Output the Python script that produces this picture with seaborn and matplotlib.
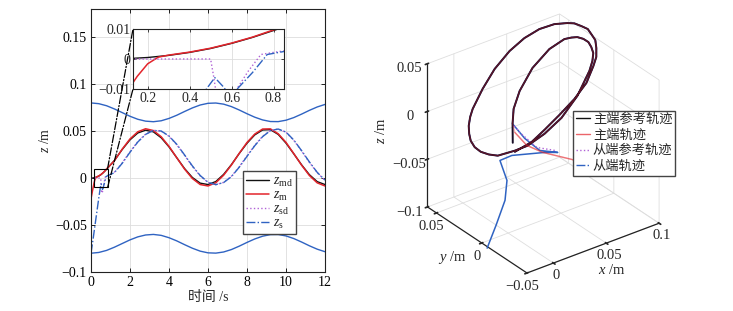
import numpy as np
import matplotlib
matplotlib.use("Agg")
import matplotlib.pyplot as plt
import seaborn as sns
from matplotlib.lines import Line2D
from matplotlib.patches import Rectangle, ConnectionPatch
from mpl_toolkits.mplot3d import proj3d

# ---------------- left panel: z over time ----------------
t_main = [1.2, 1.6, 2.0, 2.4, 2.8, 3.2, 3.6, 4.0, 4.4, 4.8, 5.2, 5.6, 6.0, 6.4,
          6.8, 7.2, 7.6, 8.0, 8.4, 8.8, 9.2, 9.6, 10.0, 10.4, 10.8, 11.2, 11.6, 12.0]

t_md_early = [0.0, 0.1, 0.2, 0.3, 0.4, 0.5, 0.6, 0.7, 0.8]
z_md_early = [0.0, 0.0001, 0.0005, 0.0012, 0.0022, 0.0035, 0.0052, 0.0072, 0.0095]
z_md_main = [0.0187, 0.0304, 0.0407, 0.0480, 0.0510, 0.0492, 0.0429, 0.0332, 0.0216, 0.0101,
             0.0006, -0.0054, -0.0069, -0.0037, 0.0039, 0.0143, 0.0261, 0.0371, 0.0460, 0.0512,
             0.0515, 0.0465, 0.0372, 0.0258, 0.0141, 0.0036, -0.0038, -0.0069]

t_m_early = [0.0, 0.05, 0.1, 0.15, 0.2, 0.25, 0.3, 0.4, 0.5, 0.6, 0.7, 0.8]
z_m_early = [-0.022, -0.0165, -0.011, -0.0058, -0.0016, 0.0006, 0.0013, 0.0023, 0.0036, 0.0053,
             0.0073, 0.0097]
z_m_main = [0.0185, 0.0308, 0.0417, 0.0493, 0.0525, 0.0506, 0.0440, 0.0338, 0.0216, 0.0095,
            -0.0005, -0.0069, -0.0084, -0.0050, 0.0030, 0.0139, 0.0263, 0.0379, 0.0469, 0.0522,
            0.0524, 0.0472, 0.0380, 0.0260, 0.0137, 0.0027, -0.0051, -0.0084]

t_sd_early = [0.0, 0.5, 0.515, 0.53, 0.57, 0.6, 0.625, 0.68, 0.74, 0.8]
z_sd_early = [0.0, 0.0, -0.006, -0.013, -0.016, -0.0135, -0.010, -0.004, 0.0015, 0.0022]
z_sd_main = [0.0062, 0.0162, 0.0280, 0.0388, 0.0468, 0.0508, 0.0500, 0.0445, 0.0355, 0.0241,
             0.0124, 0.0023, -0.0046, -0.0070, -0.0046, 0.0019, 0.0120, 0.0236, 0.0350, 0.0445,
             0.0507, 0.0522, 0.0487, 0.0401, 0.0287, 0.0167, 0.0057, -0.0024]

t_s_early = [0.0, 0.1, 0.2, 0.3, 0.4, 0.48, 0.52, 0.56, 0.59, 0.62, 0.7, 0.77, 0.85]
z_s_early = [-0.080, -0.066, -0.051, -0.036, -0.021, -0.010, -0.0062, -0.0092, -0.012, -0.0105,
             -0.0045, 0.0015, 0.0025]
z_s_main = [0.0058, 0.0157, 0.0275, 0.0384, 0.0465, 0.0507, 0.0501, 0.0448, 0.0359, 0.0246,
            0.0129, 0.0027, -0.0044, -0.0070, -0.0048, 0.0015, 0.0115, 0.0231, 0.0345, 0.0441,
            0.0505, 0.0522, 0.0490, 0.0405, 0.0292, 0.0172, 0.0061, -0.0022]

t_bound = [0.0, 0.4, 0.8, 1.2, 1.6, 2.0, 2.4, 2.8, 3.2, 3.6, 4.0, 4.4, 4.8, 5.2, 5.6, 6.0,
           6.4, 6.8, 7.2, 7.6, 8.0, 8.4, 8.8, 9.2, 9.6, 10.0, 10.4, 10.8, 11.2, 11.6, 12.0]
z_upper = [0.0800, 0.0792, 0.0770, 0.0736, 0.0697, 0.0658, 0.0626, 0.0606, 0.0600, 0.0610,
           0.0635, 0.0669, 0.0709, 0.0747, 0.0778, 0.0796, 0.0799, 0.0787, 0.0761, 0.0725,
           0.0685, 0.0648, 0.0619, 0.0602, 0.0601, 0.0616, 0.0644, 0.0681, 0.0721, 0.0757, 0.0784]
z_lower = [-0.0800, -0.0792, -0.0770, -0.0736, -0.0697, -0.0658, -0.0626, -0.0606, -0.0600,
           -0.0610, -0.0635, -0.0669, -0.0709, -0.0747, -0.0778, -0.0796, -0.0799, -0.0787,
           -0.0761, -0.0725, -0.0685, -0.0648, -0.0619, -0.0602, -0.0601, -0.0616, -0.0644,
           -0.0681, -0.0721, -0.0757, -0.0784]

x_ticks = [0, 2, 4, 6, 8, 10, 12]
y_ticks = [-0.1, -0.05, 0, 0.05, 0.1, 0.15]
inset_x_ticks = [0.2, 0.4, 0.6, 0.8]
inset_y_ticks = [-0.01, 0, 0.01]
zoom_box = (0.13, 0.85, -0.01, 0.01)

labels_2d = [r"$z_{\mathrm{md}}$", r"$z_{\mathrm{m}}$", r"$z_{\mathrm{sd}}$", r"$z_{\mathrm{s}}$"]

# ---------------- right panel: 3D trajectories ----------------
# shared path of the two loops (after the start-up transients)
ring_x = [0.0050, 0.0157, 0.0303, 0.0509, 0.0703, 0.0829, 0.0866, 0.0892, 0.0903, 0.0900,
          0.0877, 0.0844, 0.0786, 0.0706, 0.0489, 0.0278, 0.0104, -0.0043, -0.0126, -0.0225,
          -0.0251, -0.0263, -0.0255, -0.0226, -0.0184, -0.0131, -0.0064, 0.0001, 0.0175, 0.0358,
          0.0538, 0.0683, 0.0802, 0.0893, 0.0950, 0.0975, 0.0983, 0.0987, 0.0966, 0.0940,
          0.0890, 0.0828, 0.0755, 0.0612, 0.0457, 0.0291, 0.0131, 0.0006, -0.0133]
ring_y = [0.0010, 0.0123, 0.0227, 0.0326, 0.0366, 0.0347, 0.0313, 0.0278, 0.0224, 0.0165,
          0.0106, 0.0045, -0.0013, -0.0073, -0.0194, -0.0265, -0.0281, -0.0265, -0.0220, -0.0148,
          -0.0079, -0.0004, 0.0072, 0.0150, 0.0216, 0.0283, 0.0345, 0.0393, 0.0487, 0.0568,
          0.0613, 0.0619, 0.0592, 0.0533, 0.0456, 0.0407, 0.0339, 0.0273, 0.0210, 0.0135,
          0.0065, -0.0007, -0.0060, -0.0150, -0.0199, -0.0228, -0.0249, -0.0254, -0.0229]
ring_z = [0.0117, 0.0158, 0.0219, 0.0311, 0.0403, 0.0467, 0.0489, 0.0505, 0.0516, 0.0521,
          0.0516, 0.0505, 0.0482, 0.0449, 0.0355, 0.0257, 0.0173, 0.0099, 0.0053, -0.0003,
          -0.0023, -0.0037, -0.0040, -0.0034, -0.0020, -0.0001, 0.0026, 0.0053, 0.0130, 0.0211,
          0.0296, 0.0367, 0.0429, 0.0480, 0.0516, 0.0533, 0.0544, 0.0553, 0.0549, 0.0544,
          0.0526, 0.0503, 0.0472, 0.0411, 0.0339, 0.0260, 0.0183, 0.0112, 0.0050]

md_start_x, md_start_y, md_start_z = [-0.0079], [-0.0143], [0.0068]
m_start_x = [0.0413, 0.0315, 0.0143, 0.0067, 0.0052]
m_start_y = [-0.0418, -0.0335, -0.0215, -0.0128, -0.0013]
m_start_z = [-0.020, -0.015, -0.008, -0.003, 0.004]
sd_start_x = [0.0164, 0.0065, 0.0064]
sd_start_y = [-0.0323, -0.0240, -0.0054]
sd_start_z = [0.000, 0.002, 0.006]
s_start_x = [-0.0438, -0.0349, -0.0242, -0.0180, -0.0154, -0.0071, 0.0138, 0.0207, 0.0082, 0.0057]
s_start_y = [-0.0279, -0.0274, -0.0248, -0.0197, -0.0089, -0.0124, -0.0244, -0.0306, -0.0254, -0.0117]
s_start_z = [-0.080, -0.060, -0.040, -0.025, -0.012, -0.008, -0.006, -0.005, -0.001, 0.004]

lim3_x, lim3_y, lim3_z = (-0.025, 0.1), (-0.05, 0.06), (-0.1, 0.05)
ticks3_x = [0, 0.05, 0.1]
ticks3_y = [-0.05, 0, 0.05]
ticks3_z = [-0.1, -0.05, 0, 0.05]
labels_3d = ["主端参考轨迹", "主端轨迹", "从端参考轨迹", "从端轨迹"]

BLACK, RED, PURPLE, BLUE = "#111111", "#e3242b", "#b062d6", "#2f63c2"
RING_DARK = "#180d26"   # black trace as it shows under the other three
W, H = 733, 311


def fmt(v, _=None):
    return f"{v:g}".replace("-", "\u2212")


sns.set_theme(style="ticks")
plt.rcParams["font.family"] = ["Liberation Serif", "Noto Sans CJK SC", "DejaVu Sans"]
plt.rcParams["mathtext.fontset"] = "custom"
plt.rcParams["mathtext.rm"] = "Liberation Serif"
plt.rcParams["mathtext.it"] = "Liberation Serif:italic"
plt.rcParams["font.size"] = 10

fig = plt.figure(figsize=(W / 100, H / 100), dpi=100)

# ---------- left axes ----------
ax = fig.add_axes([91 / W, 1 - 272 / H, 234 / W, 263 / H])


def draw_series(a):
    sns.lineplot(x=t_bound, y=z_upper, ax=a, color=BLUE, linewidth=1.0, sort=False, estimator=None)
    sns.lineplot(x=t_bound, y=z_lower, ax=a, color=BLUE, linewidth=1.0, sort=False, estimator=None)
    sns.lineplot(x=t_md_early + t_main, y=z_md_early + z_md_main, ax=a, color=BLACK,
                 linewidth=1.0, sort=False, estimator=None)
    sns.lineplot(x=t_m_early + t_main, y=z_m_early + z_m_main, ax=a, color=RED,
                 linewidth=1.1, sort=False, estimator=None)
    sns.lineplot(x=t_sd_early + t_main, y=z_sd_early + z_sd_main, ax=a, color=PURPLE,
                 linewidth=1.0, linestyle=":", sort=False, estimator=None)
    sns.lineplot(x=t_s_early + t_main, y=z_s_early + z_s_main, ax=a, color=BLUE,
                 linewidth=1.0, linestyle="-.", sort=False, estimator=None)


draw_series(ax)
ax.set_xlim(0, 12)
ax.set_ylim(-0.1, 0.18)
ax.set_xticks(x_ticks)
ax.set_yticks(y_ticks)
ax.xaxis.set_major_formatter(fmt)
ax.yaxis.set_major_formatter(fmt)
ax.grid(True, color="#dddddd", linewidth=0.6)
ax.tick_params(direction="in", top=True, right=True, length=3, width=0.6,
               labelsize=10, pad=3, colors="black")
for s in ax.spines.values():
    s.set_color("#222222")
    s.set_linewidth(0.8)
ax.set_xlabel("时间 /s", fontsize=10, labelpad=1)
ax.set_ylabel(r"$z$ /m", fontsize=10, labelpad=2)

ax.add_patch(Rectangle((zoom_box[0], zoom_box[2]), zoom_box[1] - zoom_box[0],
                       zoom_box[3] - zoom_box[2], fill=False, ec="black", lw=0.8, zorder=5))

handles_2d = [Line2D([], [], color=BLACK, lw=1.0),
              Line2D([], [], color=RED, lw=1.1),
              Line2D([], [], color=PURPLE, lw=1.0, ls=":"),
              Line2D([], [], color=BLUE, lw=1.0, ls="-.")]
ax.legend(handles_2d, labels_2d, loc="upper left", bbox_to_anchor=(243 / W, 1 - 171 / H),
          bbox_transform=fig.transFigure, fontsize=10, frameon=True, fancybox=False,
          edgecolor="#444444", framealpha=1, handlelength=1.6, handletextpad=0.3,
          labelspacing=0.0, borderpad=0.25, borderaxespad=0)

# ---------- inset ----------
axin = fig.add_axes([133 / W, 1 - 89 / H, 151 / W, 60 / H])
draw_series(axin)
axin.set_xlim(zoom_box[0], zoom_box[1])
axin.set_ylim(zoom_box[2], zoom_box[3])
axin.set_xticks(inset_x_ticks)
axin.set_yticks(inset_y_ticks)
axin.xaxis.set_major_formatter(fmt)
axin.yaxis.set_major_formatter(fmt)
axin.grid(True, color="#dddddd", linewidth=0.6)
axin.tick_params(direction="in", top=True, right=True, length=2.5, width=0.6,
                 labelsize=10, pad=2)
axin.set_xlabel("")
axin.set_ylabel("")
for s in axin.spines.values():
    s.set_color("#222222")
    s.set_linewidth(0.8)

for ya, yb in ((zoom_box[3], 1), (zoom_box[2], 0)):
    con = ConnectionPatch(xyA=(zoom_box[1], ya), coordsA=ax.transData,
                          xyB=(0, yb), coordsB=axin.transAxes,
                          color="black", lw=0.9, ls="-.")
    fig.add_artist(con)

# ---------- 3D axes ----------
ax3 = fig.add_axes([(543 - 150) / W, (H - 143 - 150) / H, 300 / W, 300 / H], projection="3d")
ax3.set_proj_type("ortho")
ax3.view_init(elev=30, azim=-127)
ax3.set_box_aspect((1, 1, 1))
try:
    ax3.set_xlim(*lim3_x, view_margin=0)
    ax3.set_ylim(*lim3_y, view_margin=0)
    ax3.set_zlim(*lim3_z, view_margin=0)
except TypeError:
    ax3.set_xlim(*lim3_x)
    ax3.set_ylim(*lim3_y)
    ax3.set_zlim(*lim3_z)
ax3.computed_zorder = False

ax3.plot(s_start_x + ring_x, s_start_y + ring_y, s_start_z + ring_z, color=BLUE, lw=1.1, zorder=1)
ax3.plot(sd_start_x + ring_x, sd_start_y + ring_y, sd_start_z + ring_z, color=PURPLE, lw=1.0,
         ls=":", zorder=2)
ax3.plot(md_start_x + ring_x, md_start_y + ring_y, md_start_z + ring_z, color=RING_DARK, lw=1.4,
         zorder=3)
ax3.plot(m_start_x + ring_x, m_start_y + ring_y, m_start_z + ring_z, color=RED, lw=1.0,
         alpha=0.32, zorder=4)
# the start-up part of the master trace is drawn a bit stronger, as in the reference
ax3.plot(m_start_x, m_start_y, m_start_z, color=RED, lw=1.0, alpha=0.45, zorder=4)

ax3.set_xticks(ticks3_x)
ax3.set_yticks(ticks3_y)
ax3.set_zticks(ticks3_z)
ax3.xaxis.set_major_formatter(fmt)
ax3.yaxis.set_major_formatter(fmt)
ax3.zaxis.set_major_formatter(fmt)
ax3.tick_params(labelsize=10.5, pad=0)
ax3.xaxis.set_tick_params(pad=-5)
ax3.yaxis.set_tick_params(pad=-4)
for axis in (ax3.xaxis, ax3.yaxis, ax3.zaxis):
    axis.set_pane_color((1, 1, 1, 0))
    axis.pane.set_edgecolor("#d6d6d6")
    axis.line.set_color("#222222")
    axis.line.set_linewidth(0.9)
    axis._axinfo["grid"].update(color="#dedede", linewidth=0.6)
ax3.grid(True)

fig.text(381 / W, 1 - 131 / H, r"$z$ /m", rotation=90, ha="center", va="center", fontsize=10.5)
fig.text(452 / W, 1 - 258 / H, r"$y$ /m", ha="center", va="center", fontsize=10.5)
fig.text(612 / W, 1 - 270 / H, r"$x$ /m", ha="center", va="center", fontsize=10.5)

handles_3d = [Line2D([], [], color=BLACK, lw=1.0),
              Line2D([], [], color=RED, lw=1.0, alpha=0.7),
              Line2D([], [], color=PURPLE, lw=1.0, ls=":"),
              Line2D([], [], color=BLUE, lw=1.0, ls="-.")]
fig.legend(handles_3d, labels_3d, loc="upper left", bbox_to_anchor=(573 / W, 1 - 111 / H),
           fontsize=9.5, frameon=True, fancybox=False, edgecolor="#444444", framealpha=1,
           handlelength=1.1, handletextpad=0.2, labelspacing=0.25, borderpad=0.2,
           borderaxespad=0)

# fit the projected box onto its place in the reference
fig.canvas.draw()


def corner_px(a, x, y, z):
    xs, ys, _ = proj3d.proj_transform(x, y, z, a.get_proj())
    return np.array(a.transData.transform((xs, ys)))


for _ in range(2):
    xl, yl, zl = ax3.get_xlim(), ax3.get_ylim(), ax3.get_zlim()
    F = corner_px(ax3, xl[0], yl[0], zl[0])
    B = corner_px(ax3, xl[1], yl[1], zl[1])
    tF, tB = np.array([527.0, H - 273.0]), np.array([560.0, H - 14.0])
    k = np.linalg.norm(tB - tF) / np.linalg.norm(B - F)
    bb = ax3.get_position(original=True)
    w, h = bb.width * W, bb.height * H
    c = np.array([bb.x0 * W + w / 2, bb.y0 * H + h / 2])
    Fn = c + k * (F - c)
    c2 = c + (tF - Fn)
    ax3.set_position([(c2[0] - k * w / 2) / W, (c2[1] - k * h / 2) / H, k * w / W, k * h / H])
    fig.canvas.draw()

fig.savefig("out.png", dpi=100)
